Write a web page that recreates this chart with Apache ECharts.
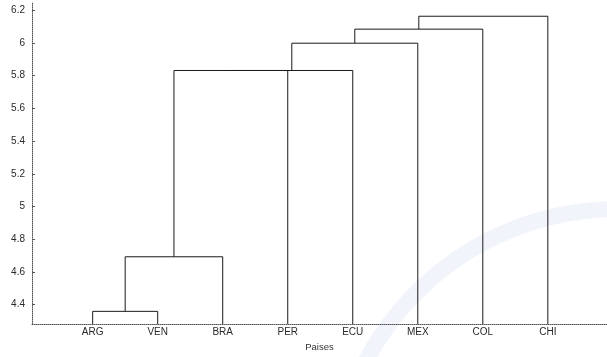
<!DOCTYPE html>
<html>
<head>
<meta charset="utf-8">
<script src="https://cdn.jsdelivr.net/npm/echarts@6/dist/echarts.min.js"></script>
<style>
  html, body { margin: 0; padding: 0; background: #fff; }
  #chart { width: 607px; height: 357px; }
</style>
</head>
<body>
<div id="chart"></div>
<script>
// Leaves of the tree, in drawing order
const categories = ['ARG', 'VEN', 'BRA', 'PER', 'ECU', 'MEX', 'COL', 'CHI'];

// Linkage steps: node ids 0..7 are the leaves, each step creates node 8, 9, ...
const mergeLeft   = [0, 8, 9, 10, 11, 12, 13];
const mergeRight  = [1, 2, 3, 4, 5, 6, 7];
const mergeHeight = [4.358, 4.692, 5.832, 5.832, 5.999, 6.085, 6.164];

// Linkage-distance tick labels
const yTicks = [4.4, 4.6, 4.8, 5.0, 5.2, 5.4, 5.6, 5.8, 6.0, 6.2];

const Y_MIN = 4.28, Y_MAX = 6.245;
const X_MIN = 0.067, X_MAX = 8.91;

// Position (x) and height of every node
const nodeX = categories.map((_, i) => i + 1);
const nodeH = categories.map(() => Y_MIN);
const series = [];
mergeHeight.forEach((h, k) => {
  const a = mergeLeft[k], b = mergeRight[k];
  const xa = nodeX[a], xb = nodeX[b];
  series.push({
    type: 'line',
    data: [[xa, nodeH[a]], [xa, h], [xb, h], [xb, nodeH[b]]],
    symbol: 'none',
    silent: true,
    lineStyle: { color: '#1a1a1a', width: 1 },
    z: 3
  });
  nodeX.push((xa + xb) / 2);
  nodeH.push(h);
});

const chart = echarts.init(document.getElementById('chart'), null, { renderer: 'canvas' });
chart.setOption({
  animation: false,
  backgroundColor: '#fff',
  textStyle: { fontFamily: 'Liberation Sans, Arial, sans-serif' },
  grid: { left: 32, right: 0, top: 3, bottom: 24, containLabel: false },
  graphic: [{
    type: 'arc',
    silent: true,
    z: -10,
    shape: { cx: 618, cy: 494, r: 285, startAngle: -2.8, endAngle: -1.3 },
    style: { stroke: '#f1f4fa', lineWidth: 16, fill: null }
  }],
  xAxis: {
    type: 'value',
    min: X_MIN,
    max: X_MAX,
    name: 'Paises',
    nameLocation: 'middle',
    nameGap: 15,
    nameTextStyle: { fontSize: 9.5, color: '#333', fontFamily: 'Liberation Sans, Arial, sans-serif' },
    splitLine: { show: false },
    axisLine: { show: true, lineStyle: { color: '#555', type: 'dotted', width: 1 } },
    axisTick: { show: false },
    axisLabel: {
      customValues: categories.map((_, i) => i + 1),
      formatter: v => categories[Math.round(v) - 1] || '',
      fontSize: 10,
      color: '#2a2a2a',
      margin: 3
    }
  },
  yAxis: {
    type: 'value',
    min: Y_MIN,
    max: Y_MAX,
    splitLine: { show: false },
    axisLine: { show: true, lineStyle: { color: '#555', type: 'dotted', width: 1 } },
    axisTick: {
      show: true,
      inside: true,
      length: 3,
      customValues: yTicks,
      lineStyle: { color: '#555' }
    },
    axisLabel: {
      customValues: yTicks,
      formatter: v => String(Number(v.toFixed(1))),
      fontSize: 10,
      color: '#2a2a2a',
      margin: 7
    }
  },
  series: series
});
</script>
</body>
</html>
